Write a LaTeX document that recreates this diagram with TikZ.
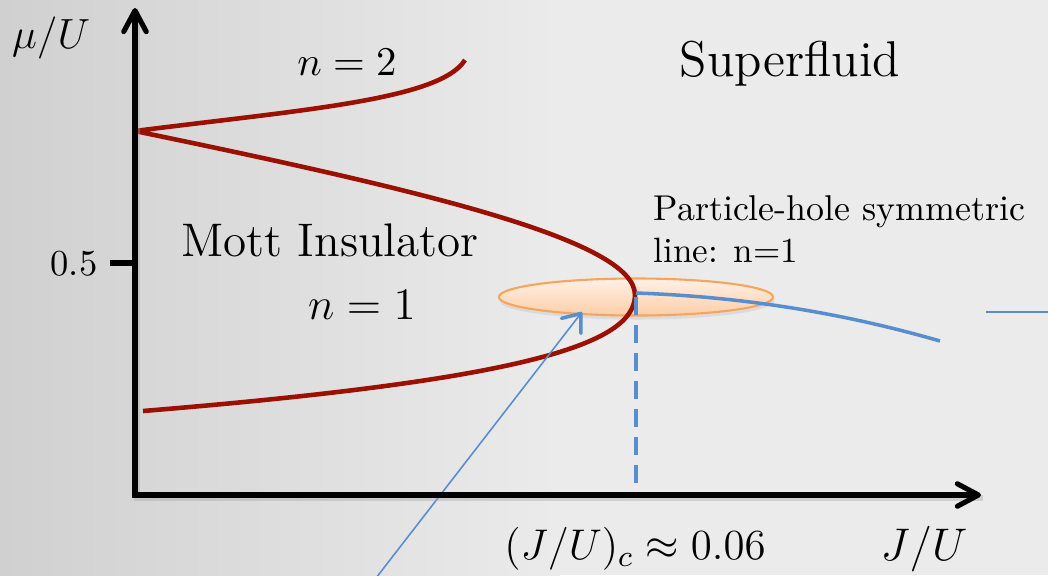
\RequirePackage{fix-cm}
\documentclass[tikz,border=0pt]{standalone}
\usepackage{fontspec}
\usetikzlibrary{arrows.meta,shapes.geometric,shadows}
\definecolor{mottred}{RGB}{155,16,0}
\definecolor{phblue}{RGB}{88,142,206}
\definecolor{bgdark}{RGB}{208,208,208}
\definecolor{bglight}{RGB}{235,235,235}
\definecolor{ellfillA}{RGB}{255,240,230}
\definecolor{ellfillB}{RGB}{253,206,168}
\definecolor{elldraw}{RGB}{247,165,90}
\newcommand{\fs}[1]{\fontsize{#1}{#1}\selectfont}
\tikzset{axtip/.tip={Straight Barb[length=6pt,width=6.4pt,round]}}
\begin{document}
\begin{tikzpicture}[x=0.01cm,y=-0.01cm,
  axis/.style={line width=1.45pt,black,line join=miter},
  lobe/.style={line width=1.3pt,mottred,line join=round},
  phline/.style={line width=1pt,phblue},
  phdash/.style={line width=0.9pt,phblue,dash pattern=on 5.1pt off 2.85pt},
  pointer/.style={line width=0.45pt,phblue,-{Straight Barb[length=4.5pt,width=7pt,line width=1pt,round]}},
  phell/.style={ellipse,draw=elldraw,line width=0.6pt,top color=ellfillA,bottom color=ellfillB,
    minimum width=2.74cm,minimum height=0.37cm,inner sep=0pt,
    drop shadow={opacity=0.15,shadow xshift=0.01cm,shadow yshift=-0.04cm}},
  lab/.style={inner sep=0pt,text=black}
]
\useasboundingbox (0,0) rectangle (1048,575);
\fill[left color=bgdark,right color=bglight] (0,0) rectangle (560,575);
\fill[bglight] (559,0) rectangle (1048,575);

% coordinates
\coordinate (O) at (135,495);
\coordinate (ytop) at (135,8);
\coordinate (xend) at (981,495);
\coordinate (tip) at (135,131);
\coordinate (n2end) at (465,60);
\coordinate (crit) at (635,295);
\coordinate (n1end) at (143,411);
\coordinate (cs) at (636,293);
\coordinate (pend) at (940,341);
\coordinate (s1) at (986,312);
\coordinate (s2) at (1048,312);
\coordinate (ptr) at (376,578);
\coordinate (ptrtip) at (582,312);
\coordinate (t05) at (135,263);
\coordinate (t05l) at (110,263);

% particle-hole ellipse
\node[phell] (ph) at (636,297) {};

% Mott lobes
\draw[lobe] (n2end) .. controls (440,100) and (300,110) .. (tip)
  .. controls (420,190) and (635,240) .. (crit)
  .. controls (635,345) and (520,380) .. (n1end);

% blue lines
\draw[phline] (cs) .. controls (750,297) and (850,315) .. (pend);
\draw[phdash] (ph.center) -- (ph.center |- O);
\draw[phblue,line width=0.55pt] (s1) -- (s2);
\draw[pointer] (ptr) -- (ptrtip);

% axes
\draw[black!35,line width=1.45pt,opacity=0.4] ([shift={(2,3)}]ytop) -- ([shift={(2,3)}]O) -- ([shift={(2,3)}]xend);
\draw[axis,axtip-axtip] (ytop) -- (O) -- (xend);
\draw[axis] (t05l) -- (t05);

% labels
\node[lab] (mu) at (51,38) {\fs{12}$\mu/U$};
\node[lab,anchor=east] (half) at (98,264) {\fs{10.4}0.5};
\node[lab] (n2) at (347,62) {\fs{11.6}$n=2$};
\node[lab] (n1) at (362,305) {\fs{12.8}$n=1$};
\node[lab] (mott) at (330,240) {\fs{13.4}Mott Insulator};
\node[lab] (sf) at (790,64) {\fs{14.3}Superfluid};
\node[lab,anchor=north west,align=left] (phtext) at (653,195) {\fs{10.2}\baselineskip=10.6pt Particle-hole symmetric\\line: n=1};
\node[lab] (jc) at (635,549) {\fs{12.2}$(J/U)_c\approx0.06$};
\node[lab] (ju) at (924,549) {\fs{13}$J/U$};
\end{tikzpicture}
\end{document}
